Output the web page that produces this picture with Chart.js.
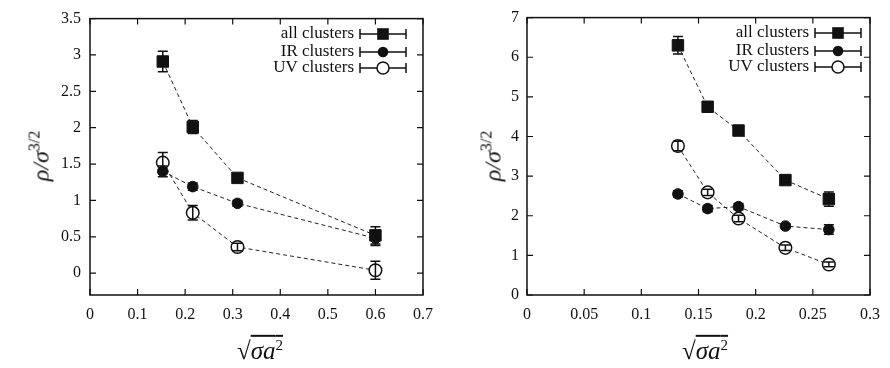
<!DOCTYPE html>
<html>
<head>
<meta charset="utf-8">
<script src="https://cdn.jsdelivr.net/npm/chart.js@4.4.0/dist/chart.umd.min.js"></script>
<style>
  body { margin: 0; background: #fff; }
  .row { display: flex; width: 890px; height: 368px; }
  .panel { position: relative; width: 445px; height: 368px; }
  .ytitle, .xtitle { position: absolute; font-family: "Liberation Serif", "DejaVu Serif", serif; color: #111; white-space: nowrap; }
  .ytitle { font-size: 24px; font-style: italic; transform: translate(-50%, -50%) rotate(-90deg); }
  .ytitle sup { font-style: normal; font-size: 16px; }
  .xtitle { font-size: 25px; transform: translate(-50%, -50%); }
  .xtitle .rad { text-decoration: overline; font-style: italic; }
  .xtitle sup { font-style: normal; font-size: 15px; }
</style>
</head>
<body>
<div class="row">
  <div class="panel">
    <canvas id="leftChart" width="445" height="368"></canvas>
    <div class="ytitle" style="left:40px; top:156px;">ρ/σ<sup>3/2</sup></div>
    <div class="xtitle" style="left:260px; top:351px;">√<span class="rad">σa<sup>2</sup></span></div>
  </div>
  <div class="panel">
    <canvas id="rightChart" width="445" height="368"></canvas>
    <div class="ytitle" style="left:47px; top:156px;">ρ/σ<sup>3/2</sup></div>
    <div class="xtitle" style="left:260px; top:351px;">√<span class="rad">σa<sup>2</sup></span></div>
  </div>
</div>
<script>
// series names
const seriesNames = ['all clusters', 'IR clusters', 'UV clusters'];

// left panel
const leftX = [0.153, 0.216, 0.310, 0.600];
const leftAll = [2.91, 2.01, 1.31, 0.52];
const leftAllErr = [0.14, 0.09, 0.04, 0.12];
const leftIR = [1.40, 1.19, 0.96, 0.48];
const leftIRErr = [0.075, 0.05, 0.04, 0.10];
const leftUV = [1.52, 0.83, 0.36, 0.04];
const leftUVErr = [0.14, 0.10, 0.05, 0.125];
const leftXTicks = [0, 0.1, 0.2, 0.3, 0.4, 0.5, 0.6, 0.7];
const leftXLabels = ['0', '0.1', '0.2', '0.3', '0.4', '0.5', '0.6', '0.7'];
const leftYTicks = [0, 0.5, 1, 1.5, 2, 2.5, 3, 3.5];
const leftYLabels = ['0', '0.5', '1', '1.5', '2', '2.5', '3', '3.5'];

// right panel
const rightX = [0.132, 0.158, 0.185, 0.226, 0.264];
const rightAll = [6.30, 4.75, 4.15, 2.90, 2.42];
const rightAllErr = [0.22, 0.12, 0.10, 0.05, 0.18];
const rightIR = [2.55, 2.18, 2.23, 1.74, 1.65];
const rightIRErr = [0.08, 0.08, 0.08, 0.06, 0.12];
const rightUV = [3.76, 2.59, 1.93, 1.19, 0.77];
const rightUVErr = [0.12, 0.08, 0.08, 0.07, 0.06];
const rightXTicks = [0, 0.05, 0.1, 0.15, 0.2, 0.25, 0.3];
const rightXLabels = ['0', '0.05', '0.1', '0.15', '0.2', '0.25', '0.3'];
const rightYTicks = [0, 1, 2, 3, 4, 5, 6, 7];
const rightYLabels = ['0', '1', '2', '3', '4', '5', '6', '7'];

const tickFont = { family: '"Liberation Serif", "DejaVu Serif", serif', size: 16 };
const ink = '#111';

function makeSet(xs, ys, errs, kind) {
    return {
        data: xs.map((x, i) => ({ x: x, y: ys[i] })),
        errs: errs,
        kind: kind,
        showLine: true,
        borderColor: '#222',
        borderWidth: 1,
        borderDash: [4, 3],
        pointStyle: kind === 'square' ? 'rect' : 'circle',
        pointRadius: kind === 'square' ? 8.1 : (kind === 'open' ? 6.3 : 5.3),
        pointBorderWidth: kind === 'open' ? 1.5 : 1,
        pointBackgroundColor: kind === 'open' ? '#fff' : ink,
        pointBorderColor: ink
    };
}

function drawMarker(ctx, kind, x, y) {
    ctx.save();
    ctx.strokeStyle = ink;
    ctx.fillStyle = ink;
    if (kind === 'square') {
        ctx.fillRect(x - 5.8, y - 5.8, 11.6, 11.6);
    } else {
        ctx.beginPath();
        ctx.arc(x, y, kind === 'open' ? 6 : 5.3, 0, Math.PI * 2);
        if (kind === 'open') {
            ctx.fillStyle = '#fff';
            ctx.fill();
            ctx.lineWidth = 1.5;
            ctx.stroke();
        } else {
            ctx.fill();
        }
    }
    ctx.restore();
}

// error bars, frame with inner ticks, legend
const physPlugin = {
    id: 'phys',
    afterDatasetsDraw(chart) {
        const ctx = chart.ctx;
        const xs = chart.scales.x, ys = chart.scales.y;
        ctx.save();
        ctx.strokeStyle = ink;
        ctx.lineWidth = 1.5;
        chart.data.datasets.forEach(ds => {
            ds.data.forEach((p, i) => {
                const px = xs.getPixelForValue(p.x);
                const top = ys.getPixelForValue(p.y + ds.errs[i]);
                const bot = ys.getPixelForValue(p.y - ds.errs[i]);
                ctx.beginPath();
                ctx.moveTo(px, top); ctx.lineTo(px, bot);
                ctx.moveTo(px - 5, top); ctx.lineTo(px + 5, top);
                ctx.moveTo(px - 5, bot); ctx.lineTo(px + 5, bot);
                ctx.stroke();
            });
        });
        ctx.restore();
    },
    afterDraw(chart, args, opts) {
        const ctx = chart.ctx;
        const a = chart.chartArea;
        const xs = chart.scales.x, ys = chart.scales.y;
        ctx.save();
        ctx.strokeStyle = ink;
        ctx.lineWidth = 1.5;
        ctx.strokeRect(a.left, a.top, a.right - a.left, a.bottom - a.top);
        ctx.lineWidth = 1.2;
        ctx.beginPath();
        xs.ticks.forEach(t => {
            const px = xs.getPixelForValue(t.value);
            ctx.moveTo(px, a.bottom); ctx.lineTo(px, a.bottom - 6);
            ctx.moveTo(px, a.top); ctx.lineTo(px, a.top + 6);
        });
        ys.ticks.forEach(t => {
            const py = ys.getPixelForValue(t.value);
            ctx.moveTo(a.left, py); ctx.lineTo(a.left + 6, py);
            ctx.moveTo(a.right, py); ctx.lineTo(a.right - 6, py);
        });
        ctx.stroke();

        // legend
        ctx.font = '17px "Liberation Serif", "DejaVu Serif", serif';
        ctx.fillStyle = ink;
        ctx.textAlign = 'right';
        ctx.textBaseline = 'middle';
        chart.data.datasets.forEach((ds, i) => {
            const y = opts.legendY[i];
            const x0 = opts.legendX;
            ctx.fillText(seriesNames[i], x0 - 6, y);
            ctx.lineWidth = 1.5;
            ctx.beginPath();
            ctx.moveTo(x0, y); ctx.lineTo(x0 + 46, y);
            ctx.moveTo(x0, y - 5); ctx.lineTo(x0, y + 5);
            ctx.moveTo(x0 + 46, y - 5); ctx.lineTo(x0 + 46, y + 5);
            ctx.stroke();
            drawMarker(ctx, ds.kind, x0 + 23, y);
        });
        ctx.restore();
    }
};

function buildChart(id, sets, cfg) {
    const ctx = document.getElementById(id).getContext('2d');
    return new Chart(ctx, {
        type: 'scatter',
        data: { datasets: sets },
        options: {
            responsive: false,
            animation: false,
            layout: { padding: { left: 0, top: 15, right: cfg.padRight, bottom: 43 } },
            plugins: {
                legend: { display: false },
                tooltip: { enabled: false },
                phys: { legendX: cfg.legendX, legendY: cfg.legendY }
            },
            scales: {
                x: {
                    type: 'linear', min: cfg.xMin, max: cfg.xMax,
                    afterBuildTicks: s => { s.ticks = cfg.xTicks.map(v => ({ value: v })); },
                    afterFit: s => { s.height = 30; },
                    grid: { display: false, drawTicks: false },
                    border: { display: false },
                    ticks: { font: tickFont, color: ink, padding: 10, maxRotation: 0, autoSkip: false,
                             callback: (v, i) => cfg.xLabels[i] }
                },
                y: {
                    type: 'linear', min: cfg.yMin, max: cfg.yMax,
                    afterBuildTicks: s => { s.ticks = cfg.yTicks.map(v => ({ value: v })); },
                    afterFit: s => { s.width = cfg.yWidth; },
                    grid: { display: false, drawTicks: false },
                    border: { display: false },
                    ticks: { font: tickFont, color: ink, padding: cfg.yPad, autoSkip: false,
                             callback: (v, i) => cfg.yLabels[i] }
                }
            }
        },
        plugins: [physPlugin]
    });
}

buildChart('leftChart', [
    makeSet(leftX, leftAll, leftAllErr, 'square'),
    makeSet(leftX, leftIR, leftIRErr, 'filled'),
    makeSet(leftX, leftUV, leftUVErr, 'open')
], {
    xMin: 0, xMax: 0.7, yMin: -0.3, yMax: 3.5,
    xTicks: leftXTicks, xLabels: leftXLabels, yTicks: leftYTicks, yLabels: leftYLabels,
    yWidth: 90, yPad: 9, padRight: 22,
    legendX: 360, legendY: [34, 52, 68]
});

buildChart('rightChart', [
    makeSet(rightX, rightAll, rightAllErr, 'square'),
    makeSet(rightX, rightIR, rightIRErr, 'filled'),
    makeSet(rightX, rightUV, rightUVErr, 'open')
], {
    xMin: 0, xMax: 0.3, yMin: 0, yMax: 7,
    xTicks: rightXTicks, xLabels: rightXLabels, yTicks: rightYTicks, yLabels: rightYLabels,
    yWidth: 82, yPad: 8, padRight: 12,
    legendX: 370, legendY: [33, 51, 67]
});
</script>
</body>
</html>
